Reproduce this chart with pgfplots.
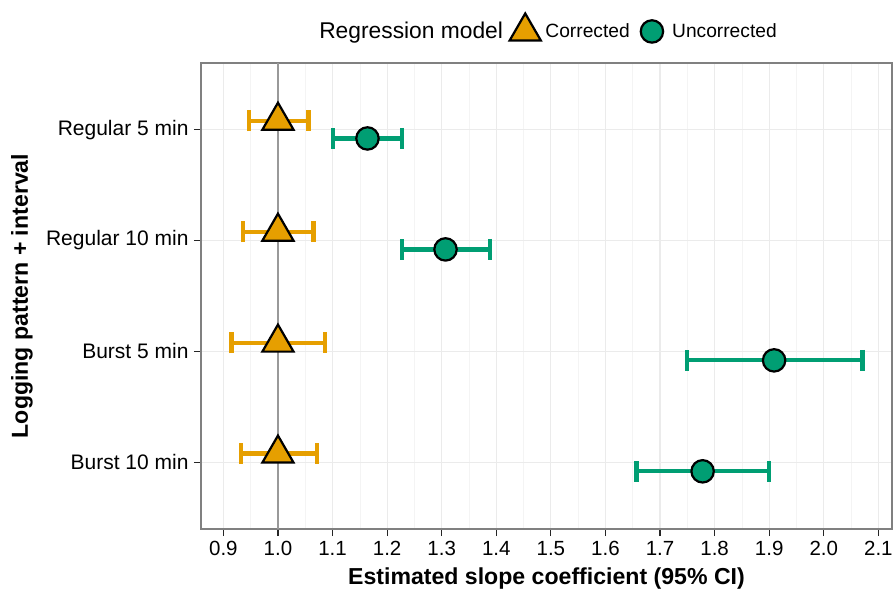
\documentclass[border=0pt]{standalone}
\usepackage{fontspec}
\setmainfont{Liberation Sans}
\usepackage{pgfplots}
\usepackage{pgfplotstable}
\pgfplotsset{compat=1.18}
\definecolor{corr}{HTML}{E69F00}
\definecolor{unc}{HTML}{009E73}
\definecolor{grmaj}{HTML}{EBEBEB}
\definecolor{grmin}{HTML}{F4F4F4}
\pgfplotsset{
  bigmarkleg/.style={legend image code/.code={\path (0bp,0bp) (34bp,0bp); \draw[##1] plot coordinates {(17bp,0bp)};}}
}
\pgfplotstableread{
y x em ep
0.92 1.000 0.053 0.056
1.92 1.000 0.064 0.065
2.92 1.000 0.085 0.086
3.92 1.000 0.068 0.071
}\corr
\pgfplotstableread{
y x em ep
1.08 1.164 0.0625 0.063
2.08 1.307 0.080 0.081
3.08 1.909 0.160 0.162
4.08 1.778 0.121 0.122
}\unc
\begin{document}
\begin{tikzpicture}
\useasboundingbox (0,0) rectangle (893bp,594bp);
\begin{axis}[
  at={(201bp,65bp)}, anchor=south west,
  width=691bp, height=466bp, scale only axis,
  xmin=0.859, xmax=2.125, ymin=0.4, ymax=4.6, y dir=reverse,
  xtick={0.9,1.0,1.1,1.2,1.3,1.4,1.5,1.6,1.7,1.8,1.9,2.0,2.1},
  xticklabels={0.9,1.0,1.1,1.2,1.3,1.4,1.5,1.6,1.7,1.8,1.9,2.0,2.1},
  minor x tick num=1,
  ytick={1,2,3,4},
  yticklabels={Regular 5 min, Regular 10 min, Burst 5 min, Burst 10 min},
  xmajorgrids, xminorgrids, ymajorgrids,
  major grid style={grmaj, line width=1.1bp},
  minor grid style={grmin, line width=0.6bp},
  axis line style={black!50, line width=1.1bp},
  tick align=outside, xtick pos=bottom, ytick pos=left,
  major tick length=7bp, minor tick length=0bp,
  tick style={black!85, line width=1.1bp},
  /pgf/number format/assume math mode=true,
  xticklabel style={yshift=-2bp, font=\fontsize{20.5bp}{22bp}\selectfont, black},
  yticklabel style={xshift=-2bp, font=\fontsize{21bp}{23bp}\selectfont, black},
  xlabel={\textbf{Estimated slope coefficient (95\% CI)}},
  ylabel={\textbf{Logging pattern + interval}},
  label style={font=\fontsize{23.1bp}{25bp}\selectfont},
  xlabel style={at={(axis description cs:0.5,-0.107)}, anchor=center},
  ylabel style={at={(axis description cs:-0.259,0.5)}, anchor=center},
  legend style={at={(0.5,1.075)}, anchor=center, draw=none, fill=none,
    legend columns=-1, inner sep=0pt, nodes={inner sep=0pt},
    font=\fontsize{19.2bp}{21bp}\selectfont,
    /tikz/every odd column/.append style={column sep=3bp},
    /tikz/every even column/.append style={column sep=5bp}},
  legend cell align=left,
]
\addplot[black!40, line width=1.8bp, forget plot] coordinates {(1,0.4) (1,4.6)};
\addplot[only marks, mark=none, forget plot, draw=corr, line width=4.2bp,
  error bars/.cd, x dir=both, x explicit,
  error bar style={draw=corr, line width=4.2bp},
  error mark=|, error mark options={draw=corr, line width=4.2bp, mark size=10.5bp}]
  table[x=x, y=y, x error minus=em, x error plus=ep] {\corr};
\addplot[only marks, mark=none, forget plot, draw=unc, line width=4.2bp,
  error bars/.cd, x dir=both, x explicit,
  error bar style={draw=unc, line width=4.2bp},
  error mark=|, error mark options={draw=unc, line width=4.2bp, mark size=10.5bp}]
  table[x=x, y=y, x error minus=em, x error plus=ep] {\unc};
\addlegendimage{empty legend}
\addlegendentry{\fontsize{22.8bp}{24bp}\selectfont Regression model\hspace{8bp}}
\addplot[only marks, mark=triangle*, mark size=18bp,
  mark options={fill=corr, draw=black, line width=2.2bp, solid}, bigmarkleg]
  table[x=x, y=y] {\corr};
\addlegendentry{Corrected}
\addplot[only marks, mark=*, mark size=11.2bp,
  mark options={fill=unc, draw=black, line width=2.2bp, solid}, bigmarkleg]
  table[x=x, y=y] {\unc};
\addlegendentry{Uncorrected}
\end{axis}
\end{tikzpicture}
\end{document}
